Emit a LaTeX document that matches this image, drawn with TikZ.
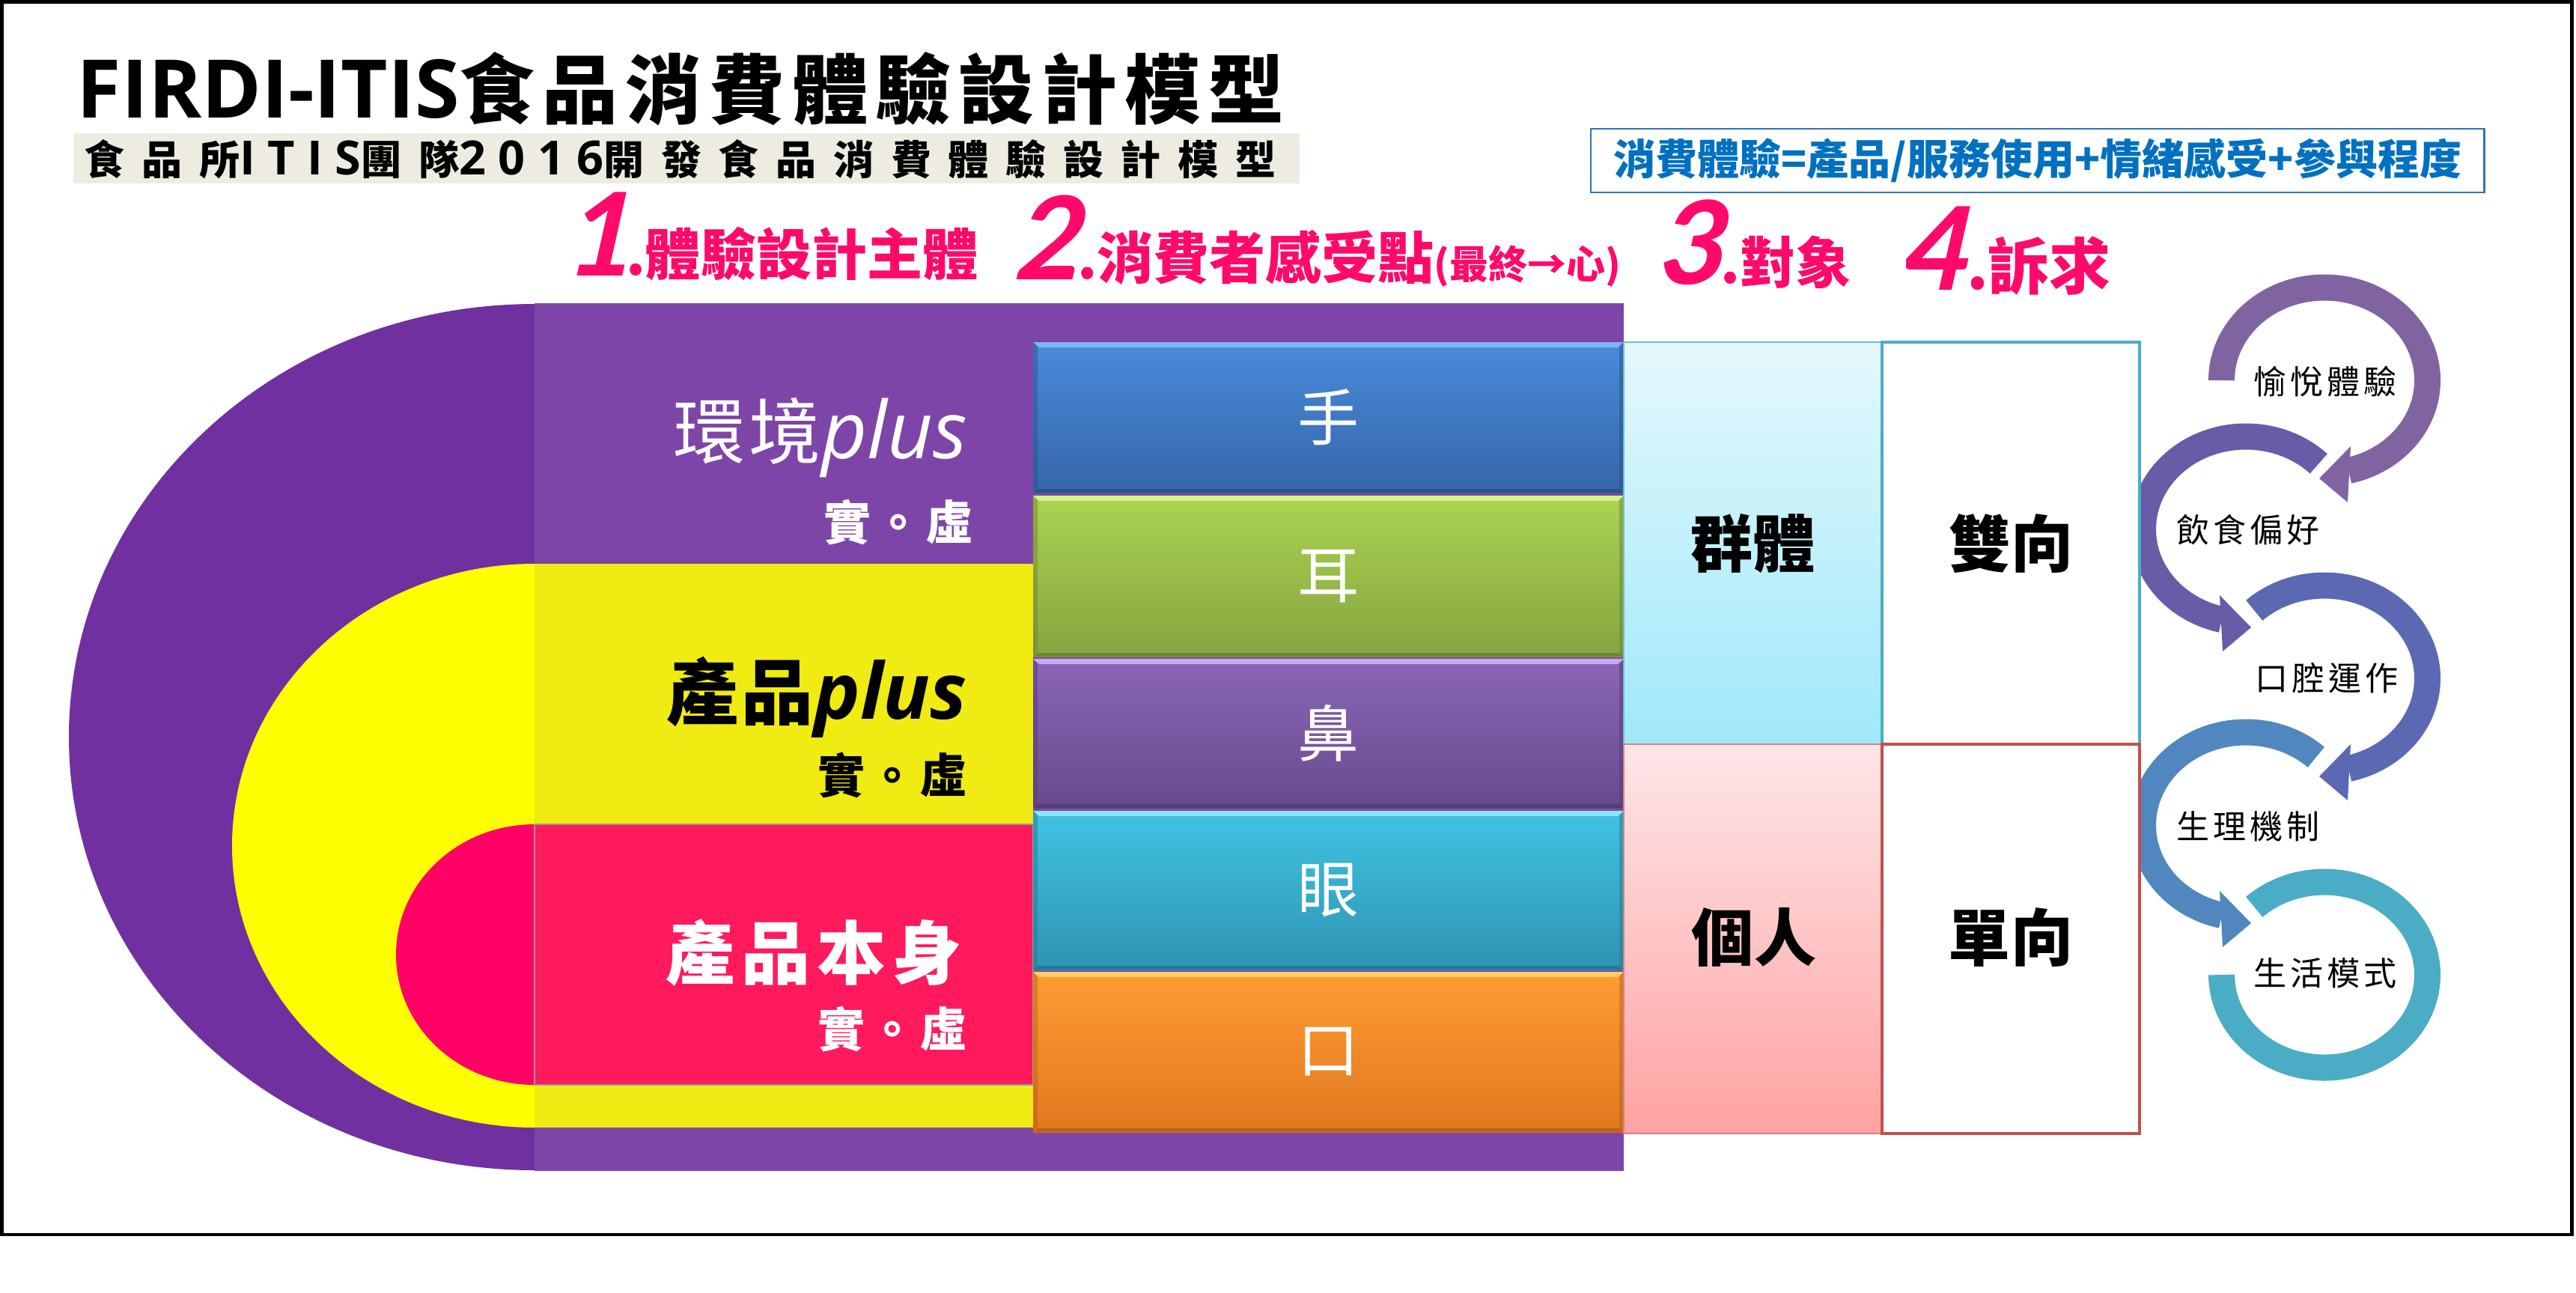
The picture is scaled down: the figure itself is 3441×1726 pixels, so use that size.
\documentclass[tikz,border=0pt]{standalone}
\usepackage{fontspec}
\setmainfont{Open Sans}
\newfontfamily\cjk{Noto Sans CJK TC}
\newfontfamily\osans{Open Sans}
\newfontfamily\carl{Carlito}
\newcommand\fsz[1]{\fontsize{\fpeval{#1*0.28453}pt}{\fpeval{#1*0.34}pt}\selectfont}
\newcommand\ls[1]{\addfontfeature{LetterSpace=#1}}
\definecolor{hpink}{HTML}{FF0A6A}
\definecolor{fblue}{HTML}{0070C0}
\definecolor{fboxblue}{HTML}{2F75B5}
\definecolor{band}{HTML}{EEECE1}
\definecolor{purpD}{HTML}{7030A0}
\definecolor{purpR}{HTML}{7E45A8}
\definecolor{yelD}{HTML}{FFFF00}
\definecolor{yelR}{HTML}{F0EB12}
\definecolor{pinkD}{HTML}{FF0066}
\definecolor{pinkR}{HTML}{FF1A5D}
\definecolor{teal}{HTML}{4BACC6}
\definecolor{redb}{HTML}{C0504D}
\definecolor{grpT}{HTML}{E4F8FC}
\definecolor{grpB}{HTML}{A0E8FA}
\definecolor{indT}{HTML}{FFE6E8}
\definecolor{indB}{HTML}{FFA2A2}
\definecolor{ringA}{HTML}{8064A2}
\definecolor{ringB}{HTML}{675CA8}
\definecolor{ringC}{HTML}{5A69B2}
\definecolor{ringD}{HTML}{5087BF}
\definecolor{ringE}{HTML}{4BACC6}
\tikzset{
  lbl/.style={inner sep=0pt, outer sep=0pt},
  sensetxt/.style={lbl, text=white, font=\cjk\fsz{82}},
  boldtxt/.style={lbl, text=black, font=\cjk\bfseries\fsz{83}},
  ringtxt/.style={lbl, text=black, font=\cjk\fsz{44}\ls{12}},
  ringband/.style={line width=0.35cm},
  hnum/.style={lbl, anchor=base west, text=hpink, font=\carl\bfseries\itshape\fsz{172}\addfontfeature{FakeSlant=0.1}},
  hcjk/.style={lbl, anchor=base west, text=hpink},
}
% #1 name, #2 ytop, #3 ybot, #4 top, #5 bottom, #6 light, #7 dark, #8 text
\newcommand\sbar[8]{%
  \definecolor{sbT}{HTML}{#4}\definecolor{sbB}{HTML}{#5}%
  \definecolor{sbL}{HTML}{#6}\definecolor{sbD}{HTML}{#7}%
  \shade[top color=sbT, bottom color=sbB] (1380,#2) rectangle (2169,#3);
  \fill[sbL] (1380,#2) -- (2169,#2) -- (2161,#2+7) -- (1388,#2+7) -- cycle;
  \fill[sbD] (1380,#3) -- (2169,#3) -- (2162,#3-5) -- (1387,#3-5) -- cycle;
  \fill[sbD,opacity=0.5] (1380,#2) -- (1386,#2+6) -- (1386,#3-5) -- (1380,#3) -- cycle;
  \fill[sbD,opacity=0.5] (2169,#2) -- (2163,#2+6) -- (2163,#3-5) -- (2169,#3) -- cycle;
  \node[sensetxt] (#1) at (1774.5,{(#2+#3)/2}) {#8};
}
\begin{document}
\begin{tikzpicture}[x=0.01cm,y=-0.01cm]
\useasboundingbox (0,0) rectangle (3441,1726);
\fill[white] (0,0) rectangle (3441,1726);
\draw[line width=1.3pt] (2.5,2.5) rectangle (3435.5,1649);

% ---------- title ----------
\node[lbl, anchor=base west] (title) at (103,157)
  {\osans\bfseries\fsz{108}FIRDI-ITIS\cjk\bfseries\fsz{101}\ls{10}食品消費體驗設計模型};
\fill[band] (98,178) rectangle (1736,245);
\node[lbl, anchor=base west] (subtitle) at (113,233)
  {{\cjk\bfseries\fsz{54}\ls{42}食品所}{\osans\bfseries\fsz{63}\ls{26}ITIS}{\cjk\bfseries\fsz{54}\ls{42}團隊}{\osans\bfseries\fsz{63}\ls{26}2016}{\cjk\bfseries\fsz{54}\ls{42}開發食品消費體驗設計模型}};

% ---------- formula box ----------
\node[lbl, draw=fboxblue, line width=0.75pt, fill=white, minimum width=11.93cm, minimum height=0.85cm, anchor=north west, text=fblue, font=\cjk\bfseries\fsz{56}] (formula) at (2125,172)
  {消費體驗=產品/服務使用+情緒感受+參與程度};

% ---------- headers ----------
\node[hnum] (n1) at (753,368) {1};
\node[hcjk] (h1) at (836,367) {\cjk\bfseries\fsz{74}.體驗設計主體};
\node[hnum] (n2) at (1354,373) {2};
\node[hcjk] (h2) at (1439,372) {\cjk\bfseries\fsz{75}.消費者感受點{\fsz{52}(最終→心)}};
\node[hnum] (n3) at (2212,379) {3};
\node[hcjk] (h3) at (2298,378) {\cjk\bfseries\fsz{74}.對象};
\node[hnum] (n4) at (2538,387) {4};
\node[hcjk] (h4) at (2627,386) {\cjk\bfseries\fsz{82}.訴求};

% ---------- layered half discs ----------
\fill[purpD] (714,406) arc[start angle=-90, end angle=-270, x radius=622, y radius=578.5] -- cycle;
\fill[purpR] (714,405) rectangle (2169,1564);
\fill[yelD] (714,753) arc[start angle=-90, end angle=-270, x radius=404, y radius=376.5] -- cycle;
\fill[yelR] (714,753) rectangle (1380,1506);
\fill[pinkD] (714,1101) arc[start angle=-90, end angle=-270, x radius=185, y radius=174] -- cycle;
\filldraw[fill=pinkR, draw=gray!80, line width=0.6pt] (714,1101) rectangle (1380,1449);

\node[lbl, anchor=base east, text=white] (env) at (1292,612)
  {\cjk\fsz{96}\ls{6}環境\osans\itshape\fsz{106}plus};
\node[lbl, anchor=east, text=white] (envrv) at (1300,697) {\cjk\bfseries\fsz{63}\ls{8}實。虛};
\node[lbl, anchor=base east, text=black] (prodp) at (1292,960)
  {\cjk\bfseries\fsz{96}\ls{5}產品\osans\bfseries\itshape\fsz{104}plus};
\node[lbl, anchor=east, text=black] (prodprv) at (1292,1035) {\cjk\bfseries\fsz{63}\ls{8}實。虛};
\node[lbl, anchor=east, text=white] (prod) at (1285,1272) {\cjk\bfseries\fsz{92}\ls{10}產品本身};
\node[lbl, anchor=east, text=white] (prodrv) at (1292,1374) {\cjk\bfseries\fsz{63}\ls{8}實。虛};

% ---------- sense bars ----------
\sbar{hand}{457}{658}{4A8BDB}{3566A8}{7DB6F2}{2B538C}{手}
\sbar{ear}{662}{877}{AAD352}{87A43F}{D9F285}{6E8733}{耳}
\sbar{nose}{880}{1079}{8B66B7}{684A8E}{C7A9F0}{553C75}{鼻}
\sbar{eye}{1083}{1295}{41C3E2}{2E94B2}{8BE6FA}{247A93}{眼}
\sbar{mouth}{1298}{1512}{FF9C33}{E0781F}{FFD068}{B8621A}{口}

% ---------- cycle arrows ----------
\draw[ringband, ringA] (3105,508) ++(-180:137.5 and 124) arc[start angle=-180, end angle=76.5, x radius=137.5, y radius=124];
\fill[ringA] (3140,596) -- (3098,639) -- (3136,671) -- cycle;
\draw[ringband, ringB] (3000,707) ++(-45:137.5 and 124) arc[start angle=-45, end angle=-256.5, x radius=137.5, y radius=124];
\fill[ringB] (2965,795) -- (3007,838) -- (2969,870) -- cycle;
\draw[ringband, ringC] (3105,906) ++(-133:137.5 and 124) arc[start angle=-133, end angle=76.5, x radius=137.5, y radius=124];
\fill[ringC] (3140,994) -- (3098,1037) -- (3136,1069) -- cycle;
\draw[ringband, ringD] (3000,1102) ++(-47:137.5 and 124) arc[start angle=-47, end angle=-256.5, x radius=137.5, y radius=124];
\fill[ringD] (2965,1190) -- (3007,1233) -- (2969,1265) -- cycle;
\draw[ringband, ringE] (3105,1302) ++(-133:137.5 and 124) arc[start angle=-133, end angle=180, x radius=137.5, y radius=124];

\node[ringtxt] (r1) at (3106,510) {愉悅體驗};
\node[ringtxt] (r2) at (3003,708) {飲食偏好};
\node[ringtxt] (r3) at (3108,906) {口腔運作};
\node[ringtxt] (r4) at (3003,1104) {生理機制};
\node[ringtxt] (r5) at (3106,1300) {生活模式};

% ---------- target / appeal columns ----------
\node[lbl, draw=teal!80, line width=0.5pt, top color=grpT, bottom color=grpB, minimum width=3.45cm, minimum height=5.37cm, anchor=north west] (grpbox) at (2169,457) {};
\node[lbl, draw=redb!70, line width=0.5pt, top color=indT, bottom color=indB, minimum width=3.45cm, minimum height=5.2cm, anchor=north west] (indbox) at (2169,994) {};
\node[lbl, draw=teal, line width=1.1pt, fill=white, minimum width=3.44cm, minimum height=5.37cm, anchor=north west] (twobox) at (2514,457) {};
\node[lbl, draw=redb, line width=1.1pt, fill=white, minimum width=3.44cm, minimum height=5.2cm, anchor=north west] (onebox) at (2514,994) {};
\node[boldtxt] (grp) at (grpbox.center) {群體};
\node[boldtxt] (ind) at (2343,1252) {個人};
\node[boldtxt] (two) at (twobox.center) {雙向};
\node[boldtxt] (one) at (2686,1252) {單向};
\end{tikzpicture}
\end{document}
